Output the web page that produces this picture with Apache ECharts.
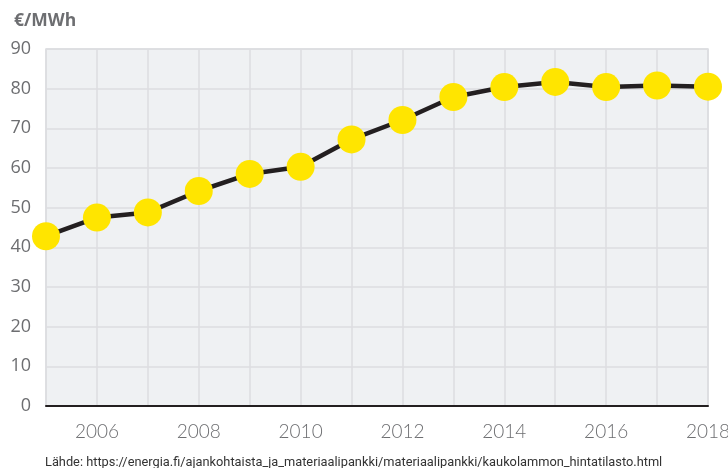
<!DOCTYPE html>
<html>
<head>
<meta charset="utf-8">
<script src="https://cdn.jsdelivr.net/npm/echarts@6/dist/echarts.min.js"></script>
<style>
html,body{margin:0;padding:0;background:#fff;}
#chart{width:728px;height:468px;}
</style>
</head>
<body>
<div id="chart"></div>
<script>
const years = ['2005','2006','2007','2008','2009','2010','2011','2012','2013','2014','2015','2016','2017','2018'];
const prices = [42.8, 47.5, 48.8, 54.2, 58.5, 60.3, 67.2, 72.1, 77.9, 80.4, 81.7, 80.4, 80.8, 80.5];
const yTicks = [0, 10, 20, 30, 40, 50, 60, 70, 80, 90];
const unitLabel = '€/MWh';
const sourceText = 'Lähde: https://energia.fi/ajankohtaista_ja_materiaalipankki/materiaalipankki/kaukolammon_hintatilasto.html';

const chart = echarts.init(document.getElementById('chart'));
chart.setOption({
  animation: false,
  backgroundColor: '#ffffff',
  textStyle: { fontFamily: 'Lato, "Open Sans", sans-serif' },
  title: [
    { text: unitLabel, left: 9, top: 7,
      textStyle: { fontSize: 17.5, fontWeight: 'bold', color: '#6d6e71', fontFamily: '"Open Sans", sans-serif' } },
    { text: sourceText, left: 40, top: 451,
      textStyle: { fontSize: 12.8, fontWeight: 'normal', color: '#333333', fontFamily: '"Liberation Sans Narrow", "Roboto", sans-serif' } }
  ],
  grid: {
    left: 46, right: 20, top: 49, bottom: 62,
    outerBoundsMode: 'none',
    containLabel: false,
    show: true, backgroundColor: '#eff1f3', borderColor: '#dcdde0', borderWidth: 1.5
  },
  xAxis: {
    type: 'category',
    data: years,
    boundaryGap: false,
    axisLine: { show: true, lineStyle: { color: '#231f20', width: 2 } },
    axisTick: { show: false },
    axisLabel: {
      interval: (i, v) => Number(v) % 2 === 0,
      fontSize: 19, color: '#6d6e71', margin: 16, fontWeight: 300,
      fontFamily: 'Lato, "Open Sans", sans-serif'
    },
    splitLine: { show: true, interval: 0, lineStyle: { color: '#dcdde0', width: 1.5 } }
  },
  yAxis: {
    type: 'value',
    min: yTicks[0], max: yTicks[yTicks.length - 1], interval: 10,
    axisLine: { show: false },
    axisTick: { show: false },
    axisLabel: { fontSize: 18, color: '#6d6e71', margin: 15, fontFamily: '"Open Sans", sans-serif' },
    splitLine: { show: true, lineStyle: { color: '#dcdde0', width: 1.5 } }
  },
  series: [{
    type: 'line',
    data: prices,
    clip: false,
    symbol: 'circle',
    symbolSize: 28,
    lineStyle: { color: '#231f20', width: 4.5 },
    itemStyle: { color: '#ffe500', borderWidth: 0 },
    z: 5
  }]
});
</script>
</body>
</html>
